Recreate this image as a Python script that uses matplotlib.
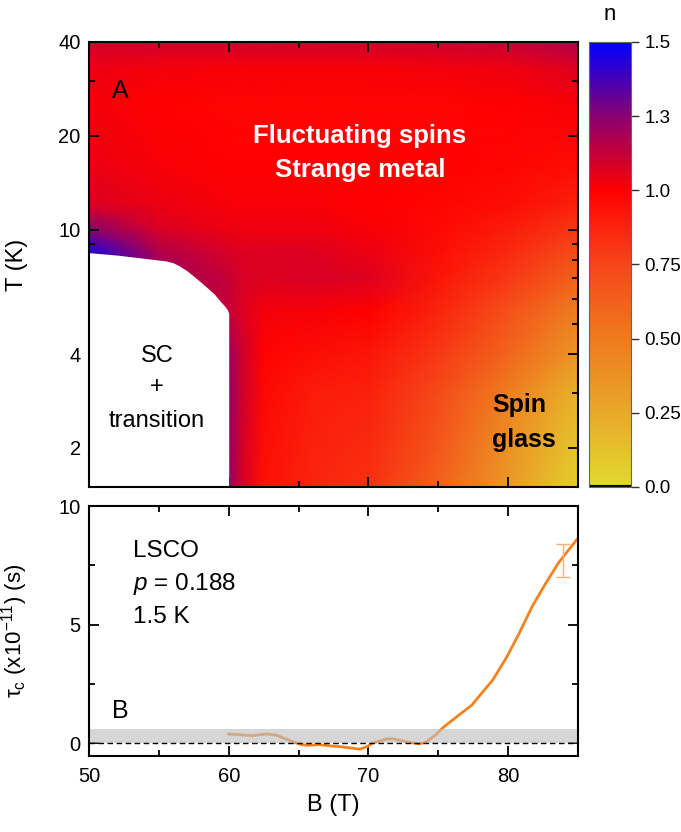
import numpy as np
import matplotlib
matplotlib.use("Agg")
import matplotlib.pyplot as plt
import matplotlib.colors as mcolors
from matplotlib.ticker import FixedLocator, FixedFormatter, NullFormatter, MultipleLocator

plt.rcParams["font.family"] = ["Liberation Sans", "DejaVu Sans"]
plt.rcParams["mathtext.fontset"] = "custom"
plt.rcParams["mathtext.rm"] = "Liberation Sans"
plt.rcParams["mathtext.it"] = "Liberation Sans:italic"

# --- panel A: exponent n over (B, T) ---
B_grid = np.array([50, 55, 60, 61, 62.5, 66, 70, 75, 80, 85])
T_grid = np.array([1.5, 2, 3, 4, 5.5, 7, 8.5, 10, 12, 16, 25, 33, 40])
n_map = np.array([
    [1.30, 1.30, 1.28, 1.10, 0.94, 0.87, 0.83, 0.62, 0.33, 0.05],  # 1.5 K
    [1.30, 1.30, 1.28, 1.10, 0.95, 0.88, 0.85, 0.67, 0.38, 0.10],  # 2
    [1.30, 1.30, 1.28, 1.12, 0.97, 0.90, 0.88, 0.73, 0.48, 0.20],  # 3
    [1.30, 1.30, 1.25, 1.12, 0.99, 0.95, 0.92, 0.80, 0.60, 0.35],  # 4
    [1.40, 1.25, 1.15, 1.08, 1.03, 1.02, 1.00, 0.87, 0.70, 0.48],  # 5.5
    [1.45, 1.25, 1.15, 1.10, 1.08, 1.10, 1.08, 0.92, 0.80, 0.62],  # 7
    [1.45, 1.20, 1.10, 1.08, 1.08, 1.08, 1.05, 0.95, 0.85, 0.72],  # 8.5
    [1.30, 1.10, 1.05, 1.04, 1.04, 1.04, 1.02, 0.97, 0.90, 0.80],  # 10
    [1.10, 1.05, 1.02, 1.02, 1.02, 1.02, 1.00, 0.98, 0.95, 0.88],  # 12
    [1.05, 1.02, 1.00, 1.00, 1.00, 1.00, 1.00, 1.00, 0.98, 0.95],  # 16
    [1.03, 1.00, 0.98, 0.98, 0.98, 0.98, 0.98, 0.98, 1.00, 1.02],  # 25
    [1.05, 1.03, 1.02, 1.02, 1.02, 1.02, 1.02, 1.03, 1.04, 1.08],  # 33
    [1.12, 1.12, 1.12, 1.12, 1.12, 1.12, 1.12, 1.13, 1.15, 1.20],  # 40
])

# superconducting region boundary (white)
B_sc = [50, 52, 54, 55, 55.5, 56, 56.5, 57, 57.5, 58, 58.5, 59, 59.4, 59.7, 59.9, 60.0, 60.0]
T_sc = [8.45, 8.3, 8.1, 8.0, 7.95, 7.85, 7.65, 7.4, 7.1, 6.8, 6.5, 6.2, 5.9, 5.7, 5.55, 5.4, 1.5]

# colour scale
n_levels = [0.0, 0.25, 0.5, 0.75, 1.0, 1.3, 1.5]
n_labels = ["0.0", "0.25", "0.50", "0.75", "1.0", "1.3", "1.5"]
cbar_colors = ["#e2d92e", "#e9a82a", "#ef7a1e", "#f6461a", "#ff0000", "#8a0070", "#0000ff"]

# --- panel B: tau_c vs B ---
B_tau = [60, 61.7, 62.7, 63.4, 64.6, 65.1, 65.6, 66.5, 67.4, 67.9, 69.4, 69.9,
         70.3, 71.3, 71.7, 72.7, 73.6, 74.1, 74.8, 75.3, 76.3, 77.4, 78.1, 78.9,
         79.9, 80.8, 81.7, 82.7, 83.6, 85.0]
tau = [0.38, 0.31, 0.38, 0.33, 0.05, -0.05, -0.10, -0.07, -0.13, -0.15, -0.26, -0.15,
       0.0, 0.17, 0.18, 0.06, -0.04, 0.03, 0.34, 0.63, 1.10, 1.60, 2.10, 2.66,
       3.63, 4.64, 5.74, 6.75, 7.60, 8.65]
err_B = [83.9]
err_tau = [7.7]
err_size = [0.7]
noise_band = (0.0, 0.6)

fig = plt.figure(figsize=(6.81, 8.32), dpi=100)
ax = fig.add_axes([0.1307, 0.4147, 0.7181, 0.5349])
cax = fig.add_axes([0.8649, 0.4147, 0.0617, 0.5349])
bx = fig.add_axes([0.1307, 0.0913, 0.7181, 0.3005])

idx = np.linspace(0, 1, len(n_levels))
cmap = mcolors.LinearSegmentedColormap.from_list("n", list(zip(idx, cbar_colors)))
norm = mcolors.FuncNorm((lambda x: np.interp(x, n_levels, idx),
                         lambda y: np.interp(y, idx, n_levels)), vmin=0, vmax=1.5)

mesh = ax.pcolormesh(B_grid, T_grid, n_map, shading="gouraud", cmap=cmap, norm=norm,
                     rasterized=True)
ax.fill_between(B_sc, 1.4, T_sc, color="white", lw=0, zorder=2)
ax.set_yscale("log")
ax.set_xlim(50, 85)
ax.set_ylim(1.5, 40)
ax.yaxis.set_major_locator(FixedLocator([2, 4, 10, 20, 40]))
ax.yaxis.set_minor_locator(FixedLocator([3, 5, 6, 7, 8, 9, 30]))
ax.yaxis.set_major_formatter(FixedFormatter(["2", "4", "10", "20", "40"]))
ax.yaxis.set_minor_formatter(NullFormatter())
ax.xaxis.set_major_locator(MultipleLocator(10))
ax.xaxis.set_minor_locator(MultipleLocator(5))
ax.set_xticklabels([])
ax.set_ylabel("T (K)", fontsize=17)
ax.yaxis.set_label_coords(-0.125, 0.5)

ax.text(0.047, 0.874, "A", transform=ax.transAxes, fontsize=18)
ax.text(0.554, 0.773, "Fluctuating spins", transform=ax.transAxes, fontsize=18.5,
        fontweight="bold", color="white", ha="center")
ax.text(0.554, 0.697, "Strange metal", transform=ax.transAxes, fontsize=18.5,
        fontweight="bold", color="white", ha="center")
ax.text(0.139, 0.281, "SC", transform=ax.transAxes, fontsize=17, ha="center")
ax.text(0.139, 0.211, "+", transform=ax.transAxes, fontsize=17, ha="center")
ax.text(0.139, 0.135, "transition", transform=ax.transAxes, fontsize=17, ha="center")
ax.text(0.824, 0.169, "Spin", transform=ax.transAxes, fontsize=18, fontweight="bold")
ax.text(0.824, 0.09, "glass", transform=ax.transAxes, fontsize=18, fontweight="bold")

cb = fig.colorbar(mesh, cax=cax, ticks=n_levels)
cb.ax.set_yticklabels(n_labels)
cb.ax.tick_params(direction="out", length=6, width=1, labelsize=13.5, color="#333333")
cb.ax.minorticks_off()
cb.outline.set_edgecolor("#666666")
cb.outline.set_linewidth(0.8)
cax.axhline(0.0, color="black", lw=3)
fig.text(0.896, 0.982, "n", ha="center", va="center", fontsize=16)

# bottom panel
bx.axhspan(*noise_band, color="#bebebe", alpha=0.63, lw=0, zorder=3)
bx.axhline(0, color="black", lw=1, ls=(0, (4, 2.5)), zorder=4)
bx.plot(B_tau, tau, color="#f5821e", lw=2, zorder=2)
bx.errorbar(err_B, err_tau, yerr=err_size, color="#f7b07a", lw=1, capsize=5,
            capthick=1, zorder=2)
bx.set_xlim(50, 85)
bx.set_ylim(-0.55, 10)
bx.xaxis.set_major_locator(MultipleLocator(10))
bx.xaxis.set_minor_locator(MultipleLocator(5))
bx.yaxis.set_major_locator(MultipleLocator(5))
bx.yaxis.set_minor_locator(MultipleLocator(2.5))
bx.set_xlabel("B (T)", fontsize=17, labelpad=6)
bx.set_ylabel("τ$_{\\rm c}$ (x10$^{-11}$) (s)", fontsize=16)
bx.yaxis.set_label_coords(-0.12, 0.5)

bx.text(0.09, 0.796, "LSCO", transform=bx.transAxes, fontsize=17.5)
bx.text(0.09, 0.664, "$p$ = 0.188", transform=bx.transAxes, fontsize=17.5)
bx.text(0.09, 0.532, "1.5 K", transform=bx.transAxes, fontsize=17.5)
bx.text(0.047, 0.152, "B", transform=bx.transAxes, fontsize=18)

for a in (ax, bx):
    for s in a.spines.values():
        s.set_linewidth(1.5)
        s.set_zorder(5)
    a.tick_params(which="both", direction="in", top=True, right=True, width=1.3,
                  labelsize=14.5, pad=6)
    a.tick_params(which="major", length=7)
    a.tick_params(which="minor", length=4)
bx.tick_params(axis="x", pad=8)

fig.savefig("out.png", dpi=100)
